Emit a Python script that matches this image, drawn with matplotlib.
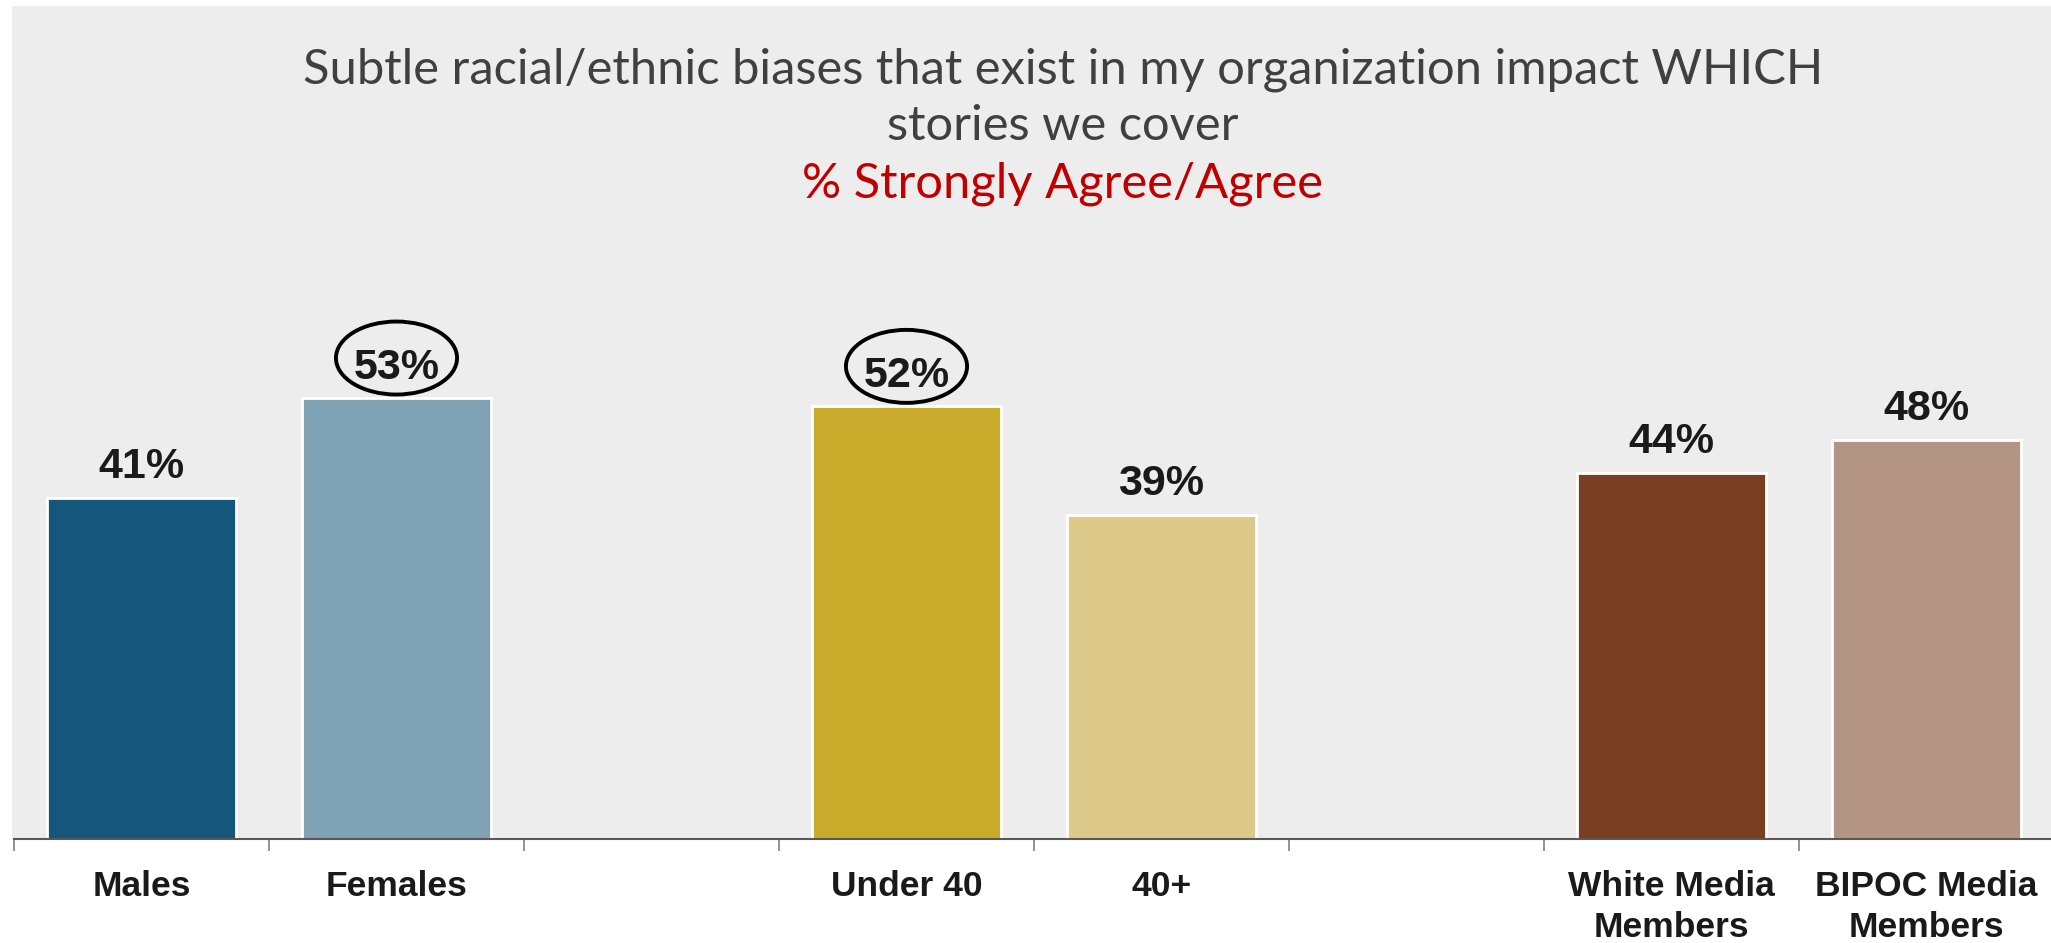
import matplotlib
matplotlib.use("Agg")
import matplotlib.pyplot as plt
from matplotlib.patches import Ellipse, Rectangle

# --- data ---
categories = ["Males", "Females", "", "Under 40", "40+", "", "White Media\nMembers", "BIPOC Media\nMembers"]
values = [41, 53, None, 52, 39, None, 44, 48]
colors = ["#14577A", "#7FA2B5", None, "#CAAA2B", "#DDCA8B", None, "#7A3E22", "#B49484"]
circled = ["Females", "Under 40"]

title_lines = ["Subtle racial/ethnic biases that exist in my organization impact WHICH",
               "stories we cover"]
subtitle = "% Strongly Agree/Agree"

W, H = 2051, 943
PX_PER_UNIT = 8.32
fig = plt.figure(figsize=(W / 100, H / 100), dpi=100)
fig.patch.set_facecolor("white")

# gray plot backdrop
fig.patches.append(Rectangle((12 / W, (H - 839) / H), 1, 833 / H, transform=fig.transFigure,
                             facecolor="#EDEDED", edgecolor="none", zorder=-1))

ax = fig.add_axes([14 / W, (H - 839) / H, 2040 / W, 833 / H])
ax.set_facecolor("none")
ax.set_zorder(1)

xs = [i for i, v in enumerate(values) if v is not None]
vs = [v for v in values if v is not None]
cs = [c for c in colors if c is not None]
ax.bar(xs, vs, width=0.745, color=cs, edgecolor="white", linewidth=2, zorder=2)

ax.set_xlim(-0.5, len(categories) - 0.5)
ax.set_ylim(0, 833 / PX_PER_UNIT)

for x, v in zip(xs, vs):
    ax.annotate(f"{v}%", (x, v), xytext=(0, 14.0), textcoords="offset points",
                ha="center", va="baseline", fontsize=31, fontweight="bold",
                family="Liberation Sans", color="#1a1a1a", zorder=4)
    if categories[x] in circled:
        ax.add_patch(Ellipse((x, v + 40 / PX_PER_UNIT), 0.475, 73 / PX_PER_UNIT, fill=False,
                             edgecolor="black", linewidth=2.8, zorder=5))

for s in ["top", "left", "right"]:
    ax.spines[s].set_visible(False)
ax.spines["bottom"].set_color("#595959")
ax.spines["bottom"].set_linewidth(1.5)
ax.set_yticks([])

ax.set_xticks(range(len(categories)))
ax.set_xticklabels(categories, fontsize=25.5, fontweight="bold", family="Liberation Sans",
                   color="#1a1a1a", linespacing=1.3)
ax.tick_params(axis="x", which="major", length=0, pad=22.5)
ax.set_xticks([i - 0.5 for i in range(len(categories) + 1)], minor=True)
ax.tick_params(axis="x", which="minor", length=8.6, width=1.2, color="#808080")

# title block
cx = 1063 / W
for line, base in zip(title_lines, [83, 140]):
    fig.text(cx, 1 - base / H, line, ha="center", va="baseline", fontsize=35.2,
             family="Lato", color="#404040")
fig.text(cx, 1 - 198 / H, subtitle, ha="center", va="baseline", fontsize=35.2,
         family="Lato", color="#C00000")

fig.savefig("out.png", dpi=100)
